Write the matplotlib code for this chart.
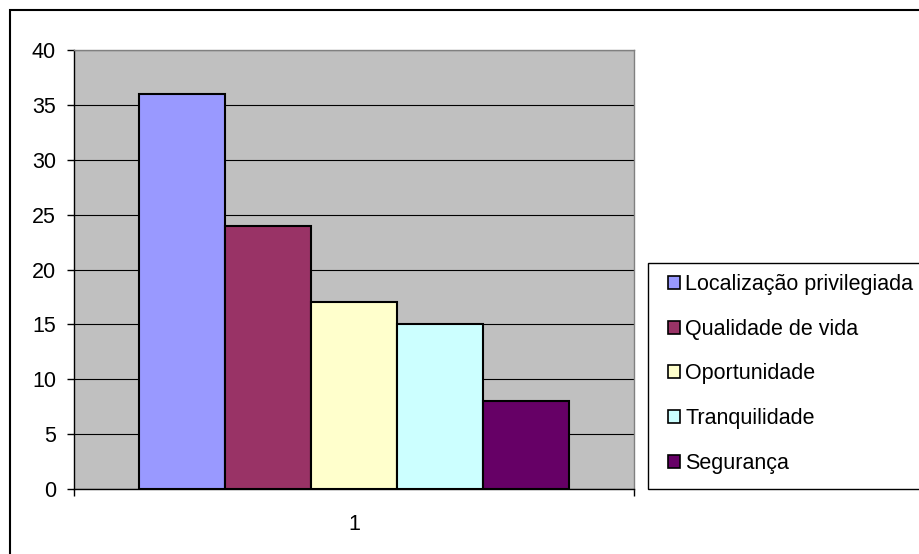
import matplotlib.pyplot as plt
from matplotlib.patches import Rectangle, Patch

# dados
categorias = ["Localização privilegiada", "Qualidade de vida", "Oportunidade",
              "Tranquilidade", "Segurança"]
valores = [36, 24, 17, 15, 8]
cores = ["#9999FF", "#993366", "#FFFFCC", "#CCFFFF", "#660066"]
grupo = ["1"]

plt.rcParams['font.family'] = ['Liberation Sans', 'DejaVu Sans']
fs = 15.5

W, H = 919, 554
fig = plt.figure(figsize=(W / 100, H / 100), dpi=100)
fig.patch.set_facecolor("white")

# moldura externa do gráfico (cortada à direita e em baixo)
fig.patches.append(Rectangle((10 / W, -0.2), 1.2, 1.2 - 10 / H,
                             transform=fig.transFigure, fill=False,
                             edgecolor="black", linewidth=1.5))

ax = fig.add_axes([74 / W, 1 - 489 / H, 560 / W, 439 / H])
ax.set_facecolor("#C0C0C0")

w = 86 / 560
for i, (c, v, cor) in enumerate(zip(categorias, valores, cores)):
    ax.bar(1 + (i - 2) * w, v, width=w, color=cor, edgecolor="black",
           linewidth=1.5, zorder=3, label=c)

ax.set_xlim(0.5, 1.5)
ax.set_ylim(0, 40)
ax.set_yticks(range(0, 41, 5))
ax.yaxis.grid(True, color="black", linewidth=0.8, zorder=1)
ax.set_axisbelow(True)

ax.set_xticks([1])
ax.set_xticklabels(grupo)
ax.set_xticks([0.5, 1.5], minor=True)
ax.tick_params(axis="x", which="major", length=0, pad=18, labelsize=fs)
ax.tick_params(axis="x", which="minor", length=5, direction="out", width=1)
ax.tick_params(axis="y", length=5, direction="out", width=1, pad=8, labelsize=fs)

for s in ["top", "right"]:
    ax.spines[s].set_color("#808080")
    ax.spines[s].set_linewidth(1)
for s in ["left", "bottom"]:
    ax.spines[s].set_color("black")
    ax.spines[s].set_linewidth(1)

# caixa da legenda (cortada à direita)
fig.patches.append(Rectangle((648 / W, 1 - 489 / H), 0.5, 226 / H,
                             transform=fig.transFigure, facecolor="white",
                             edgecolor="black", linewidth=1))

handles = [Patch(facecolor=cor, edgecolor="black", linewidth=1.2) for cor in cores]
leg = fig.legend(handles, categorias, loc="upper left",
                 bbox_to_anchor=(668 / W, 1 - 274 / H), fontsize=fs,
                 frameon=False, labelspacing=1.1, handlelength=0.56,
                 handleheight=0.56, handletextpad=0.25, borderpad=0,
                 borderaxespad=0)

fig.savefig("out.png", dpi=100)
